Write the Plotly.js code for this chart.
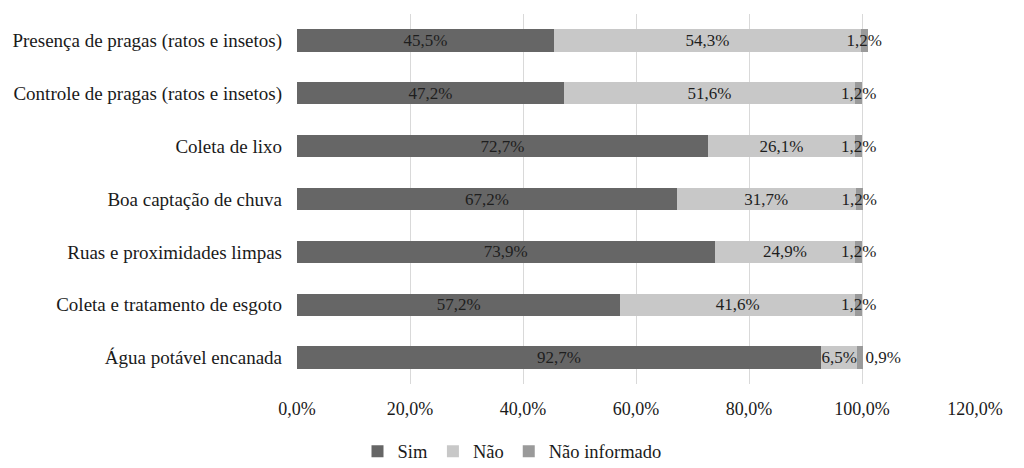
<!DOCTYPE html>
<html>
<head>
<meta charset="utf-8">
<script src="https://cdn.plot.ly/plotly-3.0.1.min.js"></script>
<style>html,body{margin:0;padding:0;background:#fff;}#chart{width:1024px;height:468px;}</style>
</head>
<body>
<div id="chart"></div>
<script>
var categories = [
  "Presença de pragas (ratos e insetos)",
  "Controle de pragas (ratos e insetos)",
  "Coleta de lixo",
  "Boa captação de chuva",
  "Ruas e proximidades limpas",
  "Coleta e tratamento de esgoto",
  "Água potável encanada"
];
var sim = [45.5, 47.2, 72.7, 67.2, 73.9, 57.2, 92.7];
var nao = [54.3, 51.6, 26.1, 31.7, 24.9, 41.6, 6.5];
var naoInformado = [1.2, 1.2, 1.2, 1.2, 1.2, 1.2, 0.9];
var xTickVals = [0, 20, 40, 60, 80, 100, 120];
var xTickText = ["0,0%", "20,0%", "40,0%", "60,0%", "80,0%", "100,0%", "120,0%"];

function fmt(v){ return v.toFixed(1).replace('.', ',') + '%'; }

var serif = "Liberation Serif, Times New Roman, serif";
var labelFont = {family: serif, size: 17, color: '#1e1e1e'};

function mk(name, vals, color, pos){
  return {
    type: 'bar', orientation: 'h', name: name,
    y: categories, x: vals,
    text: vals.map(fmt), textposition: pos, textangle: 0,
    insidetextanchor: 'middle', constraintext: 'none',
    textfont: labelFont, insidetextfont: labelFont, outsidetextfont: labelFont,
    cliponaxis: false,
    marker: {color: color, line: {width: 0}},
    hoverinfo: 'skip'
  };
}

var posNI = naoInformado.map(function(v){ return v < 1 ? 'outside' : 'inside'; });

var data = [
  mk('Sim', sim, '#666666', 'inside'),
  mk('Não', nao, '#c8c8c8', 'inside'),
  mk('Não informado', naoInformado, '#9a9a9a', posNI)
];

var layout = {
  width: 1024, height: 468,
  margin: {l: 297, r: 49, t: 14, b: 84},
  barmode: 'stack',
  bargap: 0.58,
  paper_bgcolor: '#ffffff', plot_bgcolor: '#ffffff',
  font: {family: serif, size: 17, color: '#1a1a1a'},
  xaxis: {
    range: [0, 120], tickvals: xTickVals, ticktext: xTickText,
    showgrid: true, gridcolor: '#d9d9d9', gridwidth: 1,
    zeroline: false, showline: false, ticks: '',
    tickfont: {family: serif, size: 18, color: '#1a1a1a'},
    ticklabelstandoff: 12, fixedrange: true
  },
  yaxis: {
    autorange: 'reversed', showgrid: false, zeroline: false, showline: false,
    ticks: '', ticklabelstandoff: 14,
    tickfont: {family: serif, size: 19, color: '#1a1a1a'}, fixedrange: true
  },
  showlegend: true,
  legend: {
    orientation: 'h', xref: 'container', yref: 'container',
    x: 0.5, xanchor: 'center', y: 0.035, yanchor: 'middle',
    font: {family: serif, size: 18.5, color: '#1a1a1a'},
    itemwidth: 30, tracegroupgap: 0, traceorder: 'normal'
  }
};

Plotly.newPlot('chart', data, layout, {displayModeBar: false, staticPlot: true});
</script>
</body>
</html>
